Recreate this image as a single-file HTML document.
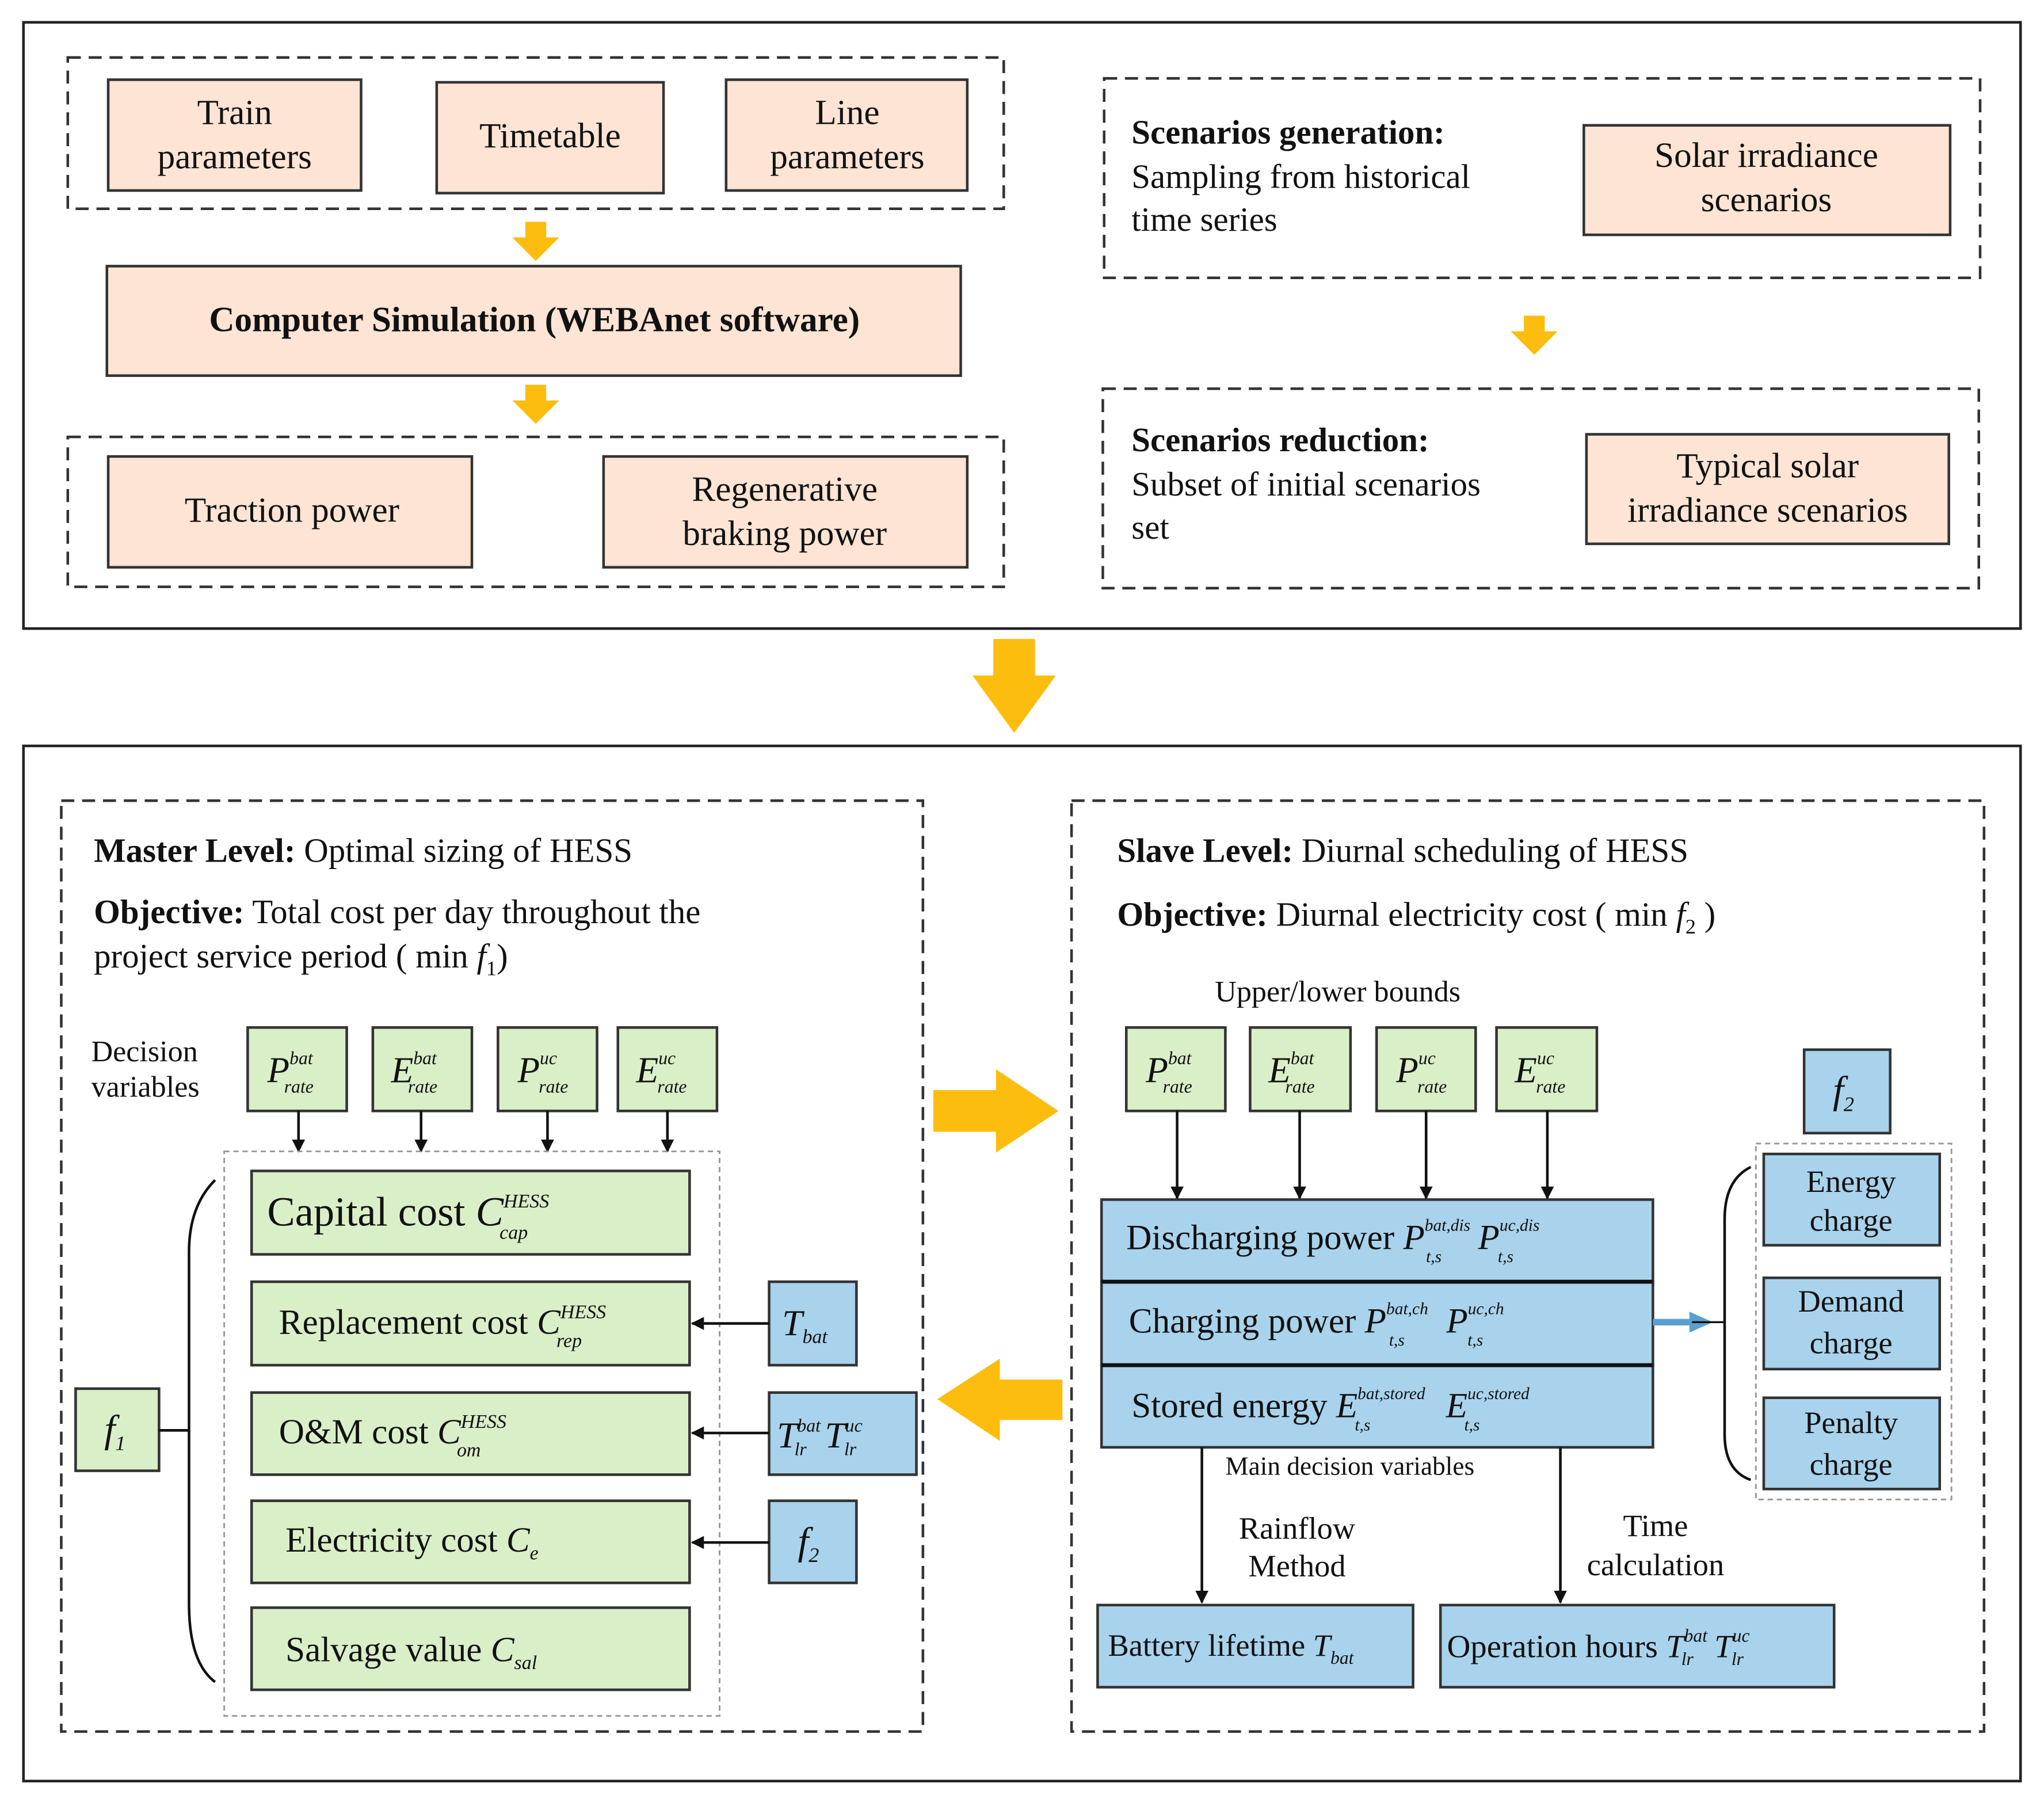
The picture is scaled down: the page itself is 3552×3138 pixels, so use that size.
<!DOCTYPE html>
<html><head><meta charset="utf-8"><style>
html,body{margin:0;padding:0;background:#fff}
svg{display:block}
text{font-family:"Liberation Serif",serif;fill:#111}
.pe{fill:#fde4d4;stroke:#333;stroke-width:2}
.gr{fill:#d9efc8;stroke:#333;stroke-width:2}
.bl{fill:#a9d3ec;stroke:#333;stroke-width:2}
.dash{fill:none;stroke:#333;stroke-width:2;stroke-dasharray:10,6}
.dot{fill:none;stroke:#999;stroke-width:1.3;stroke-dasharray:4,3}
.ln{stroke:#111;stroke-width:2;fill:none}
.i{font-style:italic}
</style></head><body>
<svg width="3552" height="3138" viewBox="0 0 1568 1385" xmlns="http://www.w3.org/2000/svg">
<defs>
<marker id="ah" markerWidth="10" markerHeight="10" refX="9" refY="5" orient="auto" markerUnits="userSpaceOnUse"><path d="M0,0 L10,5 L0,10 z" fill="#111"/></marker>
</defs>
<rect x="0" y="0" width="1568" height="1385" fill="#fff"/>
<!-- TOP -->
<rect x="18" y="17" width="1532" height="465" fill="none" stroke="#222" stroke-width="2"/>
<rect x="52" y="44" width="718" height="116" class="dash"/>
<rect x="52" y="335" width="718" height="115" class="dash"/>
<rect x="847" y="60" width="672" height="153" class="dash"/>
<rect x="846" y="298" width="672" height="153" class="dash"/>
<rect x="83" y="61" width="194" height="85" class="pe"/>
<text x="180" y="95" font-size="27" text-anchor="middle">Train</text>
<text x="180" y="129" font-size="27" text-anchor="middle">parameters</text>
<rect x="335" y="63" width="174" height="85" class="pe"/>
<text x="422" y="113" font-size="27" text-anchor="middle">Timetable</text>
<rect x="557" y="61" width="185" height="85" class="pe"/>
<text x="650" y="95" font-size="27" text-anchor="middle">Line</text>
<text x="650" y="129" font-size="27" text-anchor="middle">parameters</text>
<rect x="82" y="204" width="655" height="84" class="pe"/>
<text x="410" y="254" font-size="27" font-weight="bold" text-anchor="middle">Computer Simulation (WEBAnet software)</text>
<rect x="83" y="350" width="279" height="85" class="pe"/>
<text x="224" y="400" font-size="27" text-anchor="middle">Traction power</text>
<rect x="463" y="350" width="279" height="85" class="pe"/>
<text x="602" y="384" font-size="27" text-anchor="middle">Regenerative</text>
<text x="602" y="418" font-size="27" text-anchor="middle">braking power</text>
<rect x="1215" y="96" width="281" height="84" class="pe"/>
<text x="1355" y="128" font-size="27" text-anchor="middle">Solar irradiance</text>
<text x="1355" y="162" font-size="27" text-anchor="middle">scenarios</text>
<rect x="1217" y="333" width="278" height="84" class="pe"/>
<text x="1356" y="366" font-size="27" text-anchor="middle">Typical solar</text>
<text x="1356" y="400" font-size="27" text-anchor="middle">irradiance scenarios</text>
<text x="868" y="110" font-size="26"><tspan font-weight="bold">Scenarios generation:</tspan></text>
<text x="868" y="144" font-size="26">Sampling from historical</text>
<text x="868" y="177" font-size="26">time series</text>
<text x="868" y="346" font-size="26"><tspan font-weight="bold">Scenarios reduction:</tspan></text>
<text x="868" y="380" font-size="26">Subset of initial  scenarios</text>
<text x="868" y="413" font-size="26">set</text>
<!-- orange arrows -->
<g fill="#fdbd0f">
<path d="M403,170 h16 v12 h10 l-18,18 l-18,-18 h10 z"/>
<path d="M403,295 h16 v12 h10 l-18,18 l-18,-18 h10 z"/>
<path d="M1169,242 h16 v12 h10 l-18,18 l-18,-18 h10 z"/>
<path d="M762,490 h32 v28 h16 l-32,44 l-32,-44 h16 z"/>
<path d="M716,836 h48 v-16 l48,32 l-48,32 v-16 h-48 z"/>
<path d="M815,1058 h-48 v-16 l-48,31 l48,32 v-16 h48 z"/>
</g>
<!-- BOTTOM -->
<rect x="18" y="572" width="1532" height="794" fill="none" stroke="#222" stroke-width="2"/>
<rect x="47" y="614" width="661" height="714" class="dash"/>
<rect x="822" y="614" width="700" height="714" class="dash"/>
<text x="72" y="661" font-size="26"><tspan font-weight="bold">Master Level:</tspan> Optimal sizing of HESS</text>
<text x="72" y="708" font-size="26"><tspan font-weight="bold">Objective:</tspan> Total cost per day throughout the</text>
<text x="72" y="742" font-size="26">project service period ( min <tspan class="i">f</tspan><tspan font-size="16" dy="6">1</tspan><tspan dy="-6">)</tspan></text>
<text x="857" y="661" font-size="26"><tspan font-weight="bold">Slave Level:</tspan> Diurnal scheduling of HESS</text>
<text x="857" y="710" font-size="26"><tspan font-weight="bold">Objective:</tspan> Diurnal electricity cost ( min <tspan class="i">f</tspan><tspan font-size="16" dy="6">2</tspan><tspan dy="-6"> )</tspan></text>
<text x="70" y="814" font-size="23">Decision</text>
<text x="70" y="841" font-size="23">variables</text>
<text x="932" y="768" font-size="23">Upper/lower bounds</text>
<g font-size="28">
<rect x="190" y="788" width="76" height="64" class="gr"/><text x="205" y="830" class="i">P<tspan font-size="14" dy="-14">bat</tspan><tspan font-size="14" dx="-22" dy="22">rate</tspan></text>
<rect x="286" y="788" width="76" height="64" class="gr"/><text x="300" y="830" class="i">E<tspan font-size="14" dy="-14">bat</tspan><tspan font-size="14" dx="-22" dy="22">rate</tspan></text>
<rect x="382" y="788" width="76" height="64" class="gr"/><text x="397" y="830" class="i">P<tspan font-size="14" dy="-14">uc</tspan><tspan font-size="14" dx="-14" dy="22">rate</tspan></text>
<rect x="474" y="788" width="76" height="64" class="gr"/><text x="488" y="830" class="i">E<tspan font-size="14" dy="-14">uc</tspan><tspan font-size="14" dx="-14" dy="22">rate</tspan></text>
<rect x="864" y="788" width="76" height="64" class="gr"/><text x="879" y="830" class="i">P<tspan font-size="14" dy="-14">bat</tspan><tspan font-size="14" dx="-22" dy="22">rate</tspan></text>
<rect x="959" y="788" width="77" height="64" class="gr"/><text x="973" y="830" class="i">E<tspan font-size="14" dy="-14">bat</tspan><tspan font-size="14" dx="-22" dy="22">rate</tspan></text>
<rect x="1056" y="788" width="76" height="64" class="gr"/><text x="1071" y="830" class="i">P<tspan font-size="14" dy="-14">uc</tspan><tspan font-size="14" dx="-14" dy="22">rate</tspan></text>
<rect x="1148" y="788" width="77" height="64" class="gr"/><text x="1162" y="830" class="i">E<tspan font-size="14" dy="-14">uc</tspan><tspan font-size="14" dx="-14" dy="22">rate</tspan></text>
</g>
<g class="ln" marker-end="url(#ah)">
<line x1="229" y1="852" x2="229" y2="883"/><line x1="323" y1="852" x2="323" y2="883"/>
<line x1="420" y1="852" x2="420" y2="883"/><line x1="512" y1="852" x2="512" y2="883"/>
<line x1="903" y1="852" x2="903" y2="919"/><line x1="997" y1="852" x2="997" y2="919"/>
<line x1="1094" y1="852" x2="1094" y2="919"/><line x1="1187" y1="852" x2="1187" y2="919"/>
</g>
<rect x="172" y="883" width="380" height="433" class="dot"/>
<rect x="193" y="898" width="336" height="64" class="gr"/>
<text x="205" y="940" font-size="32">Capital cost <tspan class="i">C</tspan><tspan font-size="15" class="i" dy="-14">HESS</tspan><tspan font-size="15" class="i" dx="-38" dy="24">cap</tspan></text>
<rect x="193" y="983" width="336" height="64" class="gr"/>
<text x="214" y="1023" font-size="27">Replacement cost  <tspan class="i">C</tspan><tspan font-size="15" class="i" dy="-12">HESS</tspan><tspan font-size="15" class="i" dx="-38" dy="22">rep</tspan></text>
<rect x="193" y="1068" width="336" height="63" class="gr"/>
<text x="214" y="1107" font-size="27">O&amp;M cost  <tspan class="i">C</tspan><tspan font-size="15" class="i" dy="-12">HESS</tspan><tspan font-size="15" class="i" dx="-38" dy="22">om</tspan></text>
<rect x="193" y="1151" width="336" height="63" class="gr"/>
<text x="219" y="1190" font-size="27">Electricity cost  <tspan class="i">C</tspan><tspan font-size="15" class="i" dy="6">e</tspan></text>
<rect x="193" y="1233" width="336" height="63" class="gr"/>
<text x="219" y="1274" font-size="27">Salvage value  <tspan class="i">C</tspan><tspan font-size="15" class="i" dy="6">sal</tspan></text>
<rect x="590" y="983" width="67" height="64" class="bl"/>
<text x="600" y="1024" font-size="28" class="i">T<tspan font-size="15" dy="6">bat</tspan></text>
<rect x="590" y="1068" width="113" height="63" class="bl"/>
<text x="596" y="1110" font-size="28" class="i">T<tspan font-size="14" dy="-12">bat</tspan><tspan font-size="14" dx="-20" dy="18">lr</tspan><tspan dx="14" dy="-6">T</tspan><tspan font-size="14" dy="-12">uc</tspan><tspan font-size="14" dx="-14" dy="18">lr</tspan></text>
<rect x="590" y="1151" width="67" height="63" class="bl"/>
<text x="612" y="1192" font-size="30" class="i">f<tspan font-size="16" dy="6">2</tspan></text>
<g class="ln" marker-end="url(#ah)">
<line x1="590" y1="1015" x2="531" y2="1015"/><line x1="590" y1="1099" x2="531" y2="1099"/><line x1="590" y1="1183" x2="531" y2="1183"/>
</g>
<rect x="58" y="1065" width="64" height="63" class="gr"/>
<text x="80" y="1106" font-size="30" class="i">f<tspan font-size="16" dy="6">1</tspan></text>
<path d="M165,905 Q145,925 145,960 L145,1230 Q145,1275 165,1290" class="ln" stroke-width="1.6"/>
<line x1="122" y1="1097" x2="145" y2="1097" class="ln" stroke-width="1.6"/>
<rect x="845" y="920" width="423" height="63" class="bl"/>
<rect x="845" y="983" width="423" height="64" class="bl"/>
<rect x="845" y="1047" width="423" height="63" class="bl"/>
<line x1="845" y1="983" x2="1268" y2="983" stroke="#111" stroke-width="3"/>
<line x1="845" y1="1047" x2="1268" y2="1047" stroke="#111" stroke-width="3"/>
<text x="864" y="958" font-size="27">Discharging power  <tspan class="i">P</tspan><tspan font-size="13" class="i" dy="-14">bat,dis</tspan><tspan font-size="13" class="i" dx="-34" dy="24">t,s</tspan><tspan class="i" dx="28" dy="-10">P</tspan><tspan font-size="13" class="i" dy="-14">uc,dis</tspan><tspan font-size="13" class="i" dx="-32" dy="24">t,s</tspan></text>
<text x="866" y="1022" font-size="27">Charging power  <tspan class="i">P</tspan><tspan font-size="13" class="i" dy="-14">bat,ch</tspan><tspan font-size="13" class="i" dx="-30" dy="24">t,s</tspan><tspan class="i" dx="32" dy="-10">P</tspan><tspan font-size="13" class="i" dy="-14">uc,ch</tspan><tspan font-size="13" class="i" dx="-28" dy="24">t,s</tspan></text>
<text x="868" y="1087" font-size="27">Stored energy  <tspan class="i">E</tspan><tspan font-size="13" class="i" dy="-14">bat,stored</tspan><tspan font-size="13" class="i" dx="-54" dy="24">t,s</tspan><tspan class="i" dx="58" dy="-10">E</tspan><tspan font-size="13" class="i" dy="-14">uc,stored</tspan><tspan font-size="13" class="i" dx="-50" dy="24">t,s</tspan></text>
<text x="940" y="1131" font-size="20">Main decision variables</text>
<rect x="1384" y="805" width="66" height="64" class="bl"/>
<text x="1406" y="846" font-size="30" class="i">f<tspan font-size="16" dy="6">2</tspan></text>
<rect x="1347" y="877" width="150" height="273" class="dot"/>
<rect x="1353" y="885" width="135" height="70" class="bl"/>
<text x="1420" y="914" font-size="24" text-anchor="middle">Energy</text><text x="1420" y="944" font-size="24" text-anchor="middle">charge</text>
<rect x="1353" y="980" width="135" height="70" class="bl"/>
<text x="1420" y="1006" font-size="24" text-anchor="middle">Demand</text><text x="1420" y="1038" font-size="24" text-anchor="middle">charge</text>
<rect x="1353" y="1072" width="135" height="70" class="bl"/>
<text x="1420" y="1099" font-size="24" text-anchor="middle">Penalty</text><text x="1420" y="1131" font-size="24" text-anchor="middle">charge</text>
<path d="M1343,895 Q1323,905 1323,935 L1323,1100 Q1323,1128 1343,1135" class="ln" stroke-width="1.5"/>
<line x1="1268" y1="1014" x2="1298" y2="1014" stroke="#5b9fd1" stroke-width="5"/>
<path d="M1296,1006 L1314,1014 L1296,1022 z" fill="#5b9fd1"/>
<line x1="1298" y1="1014" x2="1323" y2="1014" stroke="#111" stroke-width="1.5"/>
<g class="ln" marker-end="url(#ah)">
<line x1="922" y1="1110" x2="922" y2="1229"/><line x1="1197" y1="1110" x2="1197" y2="1229"/>
</g>
<text x="995" y="1180" font-size="24" text-anchor="middle">Rainflow</text>
<text x="995" y="1209" font-size="24" text-anchor="middle">Method</text>
<text x="1270" y="1178" font-size="24" text-anchor="middle">Time</text>
<text x="1270" y="1208" font-size="24" text-anchor="middle">calculation</text>
<rect x="842" y="1231" width="242" height="63" class="bl"/>
<text x="850" y="1270" font-size="24">Battery lifetime <tspan class="i">T</tspan><tspan font-size="14" class="i" dy="6">bat</tspan></text>
<rect x="1105" y="1231" width="302" height="63" class="bl"/>
<text x="1110" y="1271" font-size="25">Operation hours <tspan class="i">T</tspan><tspan font-size="14" class="i" dy="-12">bat</tspan><tspan font-size="14" class="i" dx="-20" dy="18">lr</tspan><tspan class="i" dx="16" dy="-6">T</tspan><tspan font-size="14" class="i" dy="-12">uc</tspan><tspan font-size="14" class="i" dx="-14" dy="18">lr</tspan></text>
</svg>
</body></html>
